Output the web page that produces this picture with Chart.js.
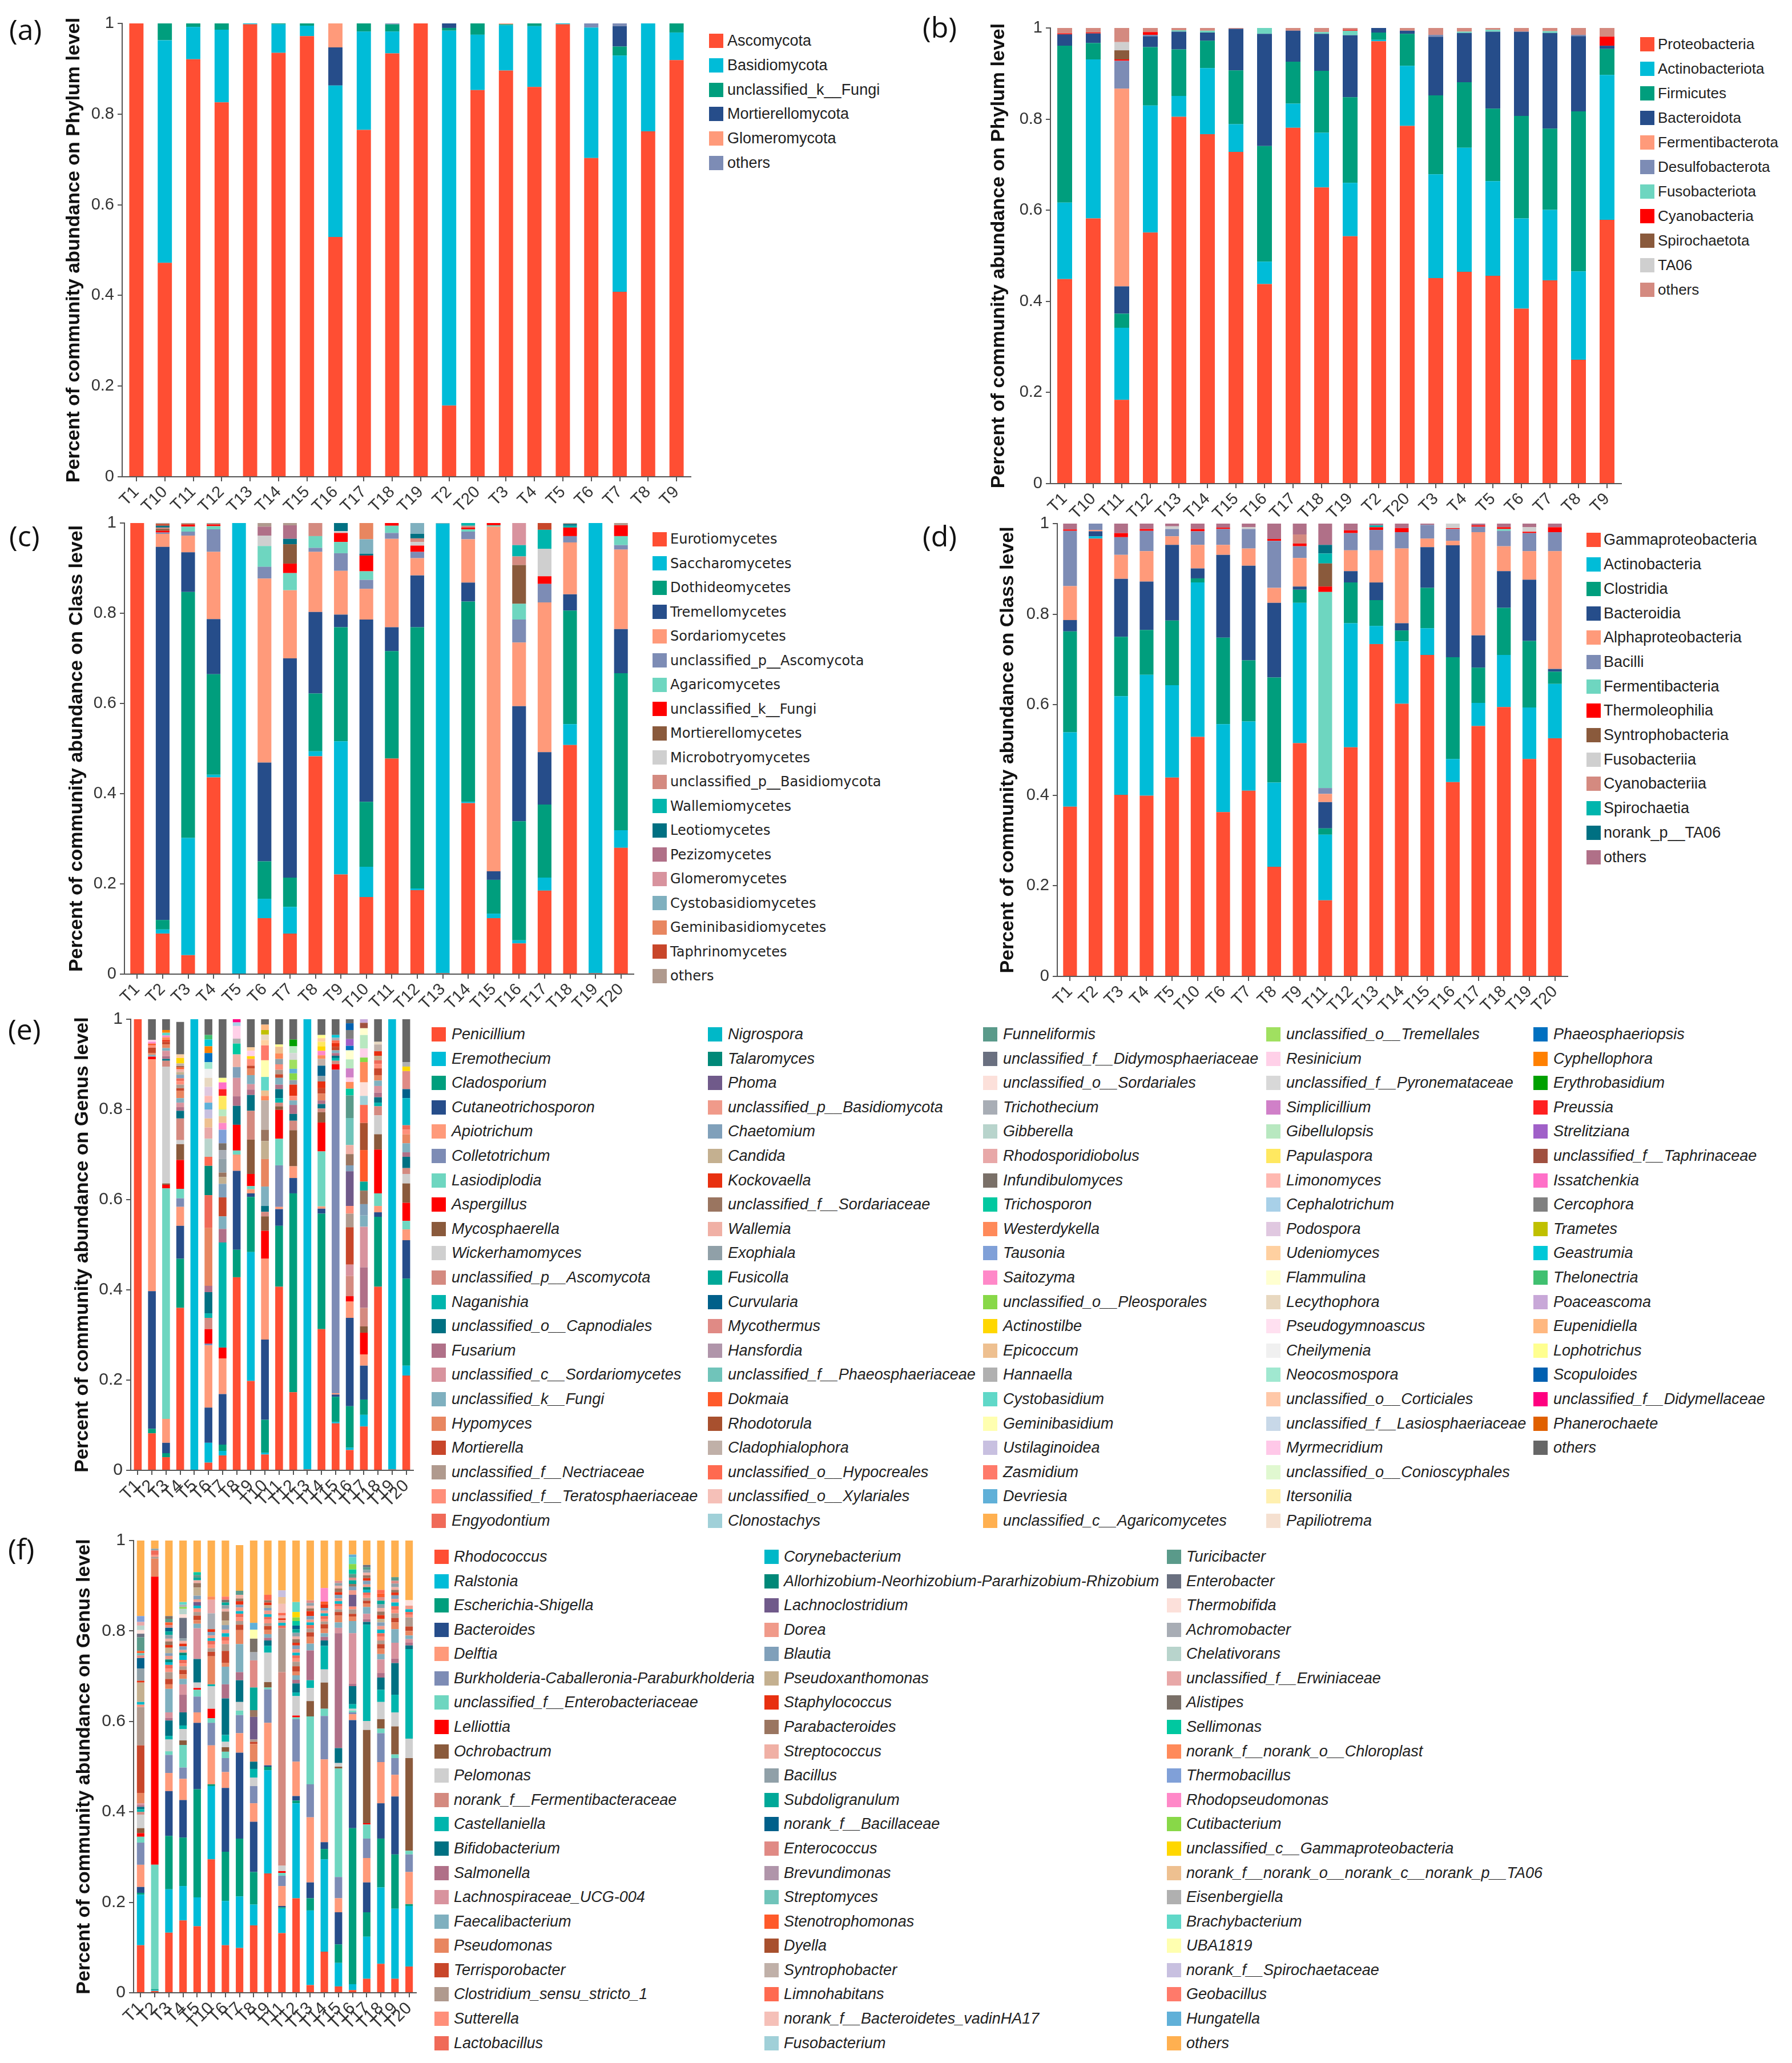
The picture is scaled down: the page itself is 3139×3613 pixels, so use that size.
<!DOCTYPE html>
<html>
<head>
<meta charset="utf-8">
<title>Community abundance barplots</title>
<script src="https://cdn.jsdelivr.net/npm/chart.js@4.4.1/dist/chart.umd.min.js"></script>
<style>
    html, body { margin: 0; padding: 0; background: #fff; }
    body { position: relative; width: 3139px; height: 3613px; overflow: hidden; }
    .tag { position: absolute; font-family: "Open Sans", "Noto Sans", sans-serif; font-size: 50px; line-height: 1; color: #111; }
    .item { position: absolute; display: flex; align-items: center; white-space: nowrap; color: #222; }
    .item .box { display: inline-block; flex: none; }
</style>
</head>
<body>
<div class="tag" style="left:16px;top:26px">(a)</div>
<div class="tag" style="left:1616px;top:22px">(b)</div>
<div class="tag" style="left:16px;top:913px">(c)</div>
<div class="tag" style="left:1616px;top:913px">(d)</div>
<div class="tag" style="left:14px;top:1777px">(e)</div>
<div class="tag" style="left:14px;top:2687px">(f)</div>

<script>
'use strict';

/* ---------- données ---------- */

// ordre des échantillons (a, b : tri alphabétique ; c, e : naturel ; d, f : T10 après T5)
const samplesAlpha = ['T1', 'T10', 'T11', 'T12', 'T13', 'T14', 'T15', 'T16', 'T17', 'T18', 'T19', 'T2', 'T20', 'T3', 'T4', 'T5', 'T6', 'T7', 'T8', 'T9'];
const samplesNatural = ['T1', 'T2', 'T3', 'T4', 'T5', 'T6', 'T7', 'T8', 'T9', 'T10', 'T11', 'T12', 'T13', 'T14', 'T15', 'T16', 'T17', 'T18', 'T19', 'T20'];
const samplesBact = ['T1', 'T2', 'T3', 'T4', 'T5', 'T10', 'T6', 'T7', 'T8', 'T9', 'T11', 'T12', 'T13', 'T14', 'T15', 'T16', 'T17', 'T18', 'T19', 'T20'];

// graduations de l'axe y
const yTicks = [0, 0.2, 0.4, 0.6, 0.8, 1];
const yTickLabels = ['0', '0.2', '0.4', '0.6', '0.8', '1'];

// (a) champignons, phylum
const phylumFungi = ['Ascomycota', 'Basidiomycota', 'unclassified_k__Fungi', 'Mortierellomycota', 'Glomeromycota', 'others'];
const phylumFungiValues = [
    [1.0, 0.472, 0.921, 0.826, 0.998, 0.935, 0.972, 0.529, 0.765, 0.934, 1.0, 0.157, 0.853, 0.896, 0.86, 0.998, 0.703, 0.408, 0.762, 0.919],
    [0, 0.491, 0.071, 0.16, 0.002, 0.063, 0.023, 0.334, 0.217, 0.048, 0, 0.827, 0.122, 0.1, 0.134, 0.002, 0.288, 0.521, 0.238, 0.061],
    [0, 0.037, 0.008, 0.014, 0, 0.002, 0.005, 0, 0.018, 0.016, 0, 0.006, 0.025, 0.002, 0.006, 0, 0, 0.02, 0, 0.02],
    [0, 0, 0, 0, 0, 0, 0, 0.084, 0, 0, 0, 0.01, 0, 0, 0, 0, 0, 0.045, 0, 0],
    [0, 0, 0, 0, 0, 0, 0, 0.053, 0, 0, 0, 0, 0, 0.002, 0, 0, 0, 0, 0, 0],
    [0, 0, 0, 0, 0, 0, 0, 0, 0, 0.002, 0, 0, 0, 0, 0, 0, 0.009, 0.006, 0, 0],
];

// (b) bactéries, phylum
const phylumBact = ['Proteobacteria', 'Actinobacteriota', 'Firmicutes', 'Bacteroidota', 'Fermentibacterota', 'Desulfobacterota',
    'Fusobacteriota', 'Cyanobacteria', 'Spirochaetota', 'TA06', 'others'];
const phylumBactValues = [
    [0.449, 0.582, 0.184, 0.551, 0.805, 0.767, 0.728, 0.438, 0.781, 0.65, 0.543, 0.971, 0.785, 0.451, 0.465, 0.456, 0.384, 0.446, 0.272, 0.579],
    [0.168, 0.349, 0.158, 0.279, 0.046, 0.145, 0.061, 0.049, 0.053, 0.12, 0.117, 0.003, 0.132, 0.228, 0.272, 0.208, 0.198, 0.155, 0.194, 0.318],
    [0.344, 0.036, 0.031, 0.128, 0.102, 0.06, 0.118, 0.254, 0.092, 0.136, 0.188, 0.016, 0.07, 0.173, 0.144, 0.159, 0.225, 0.178, 0.351, 0.057],
    [0.025, 0.021, 0.06, 0.024, 0.039, 0.018, 0.091, 0.246, 0.068, 0.081, 0.136, 0.01, 0.007, 0.129, 0.108, 0.169, 0.185, 0.21, 0.165, 0.007],
    [0, 0, 0.434, 0, 0, 0, 0, 0, 0, 0, 0, 0, 0, 0, 0, 0, 0, 0, 0, 0],
    [0, 0, 0.061, 0.003, 0, 0, 0, 0, 0, 0, 0, 0, 0, 0.004, 0, 0, 0, 0, 0.003, 0],
    [0, 0, 0, 0, 0.003, 0.004, 0, 0.013, 0, 0.004, 0.01, 0, 0, 0, 0.003, 0.004, 0, 0.004, 0, 0],
    [0.002, 0.002, 0.003, 0.006, 0, 0, 0, 0, 0, 0, 0.002, 0, 0, 0, 0, 0, 0, 0, 0, 0.02],
    [0, 0, 0.02, 0, 0, 0, 0, 0, 0, 0, 0, 0, 0, 0, 0, 0, 0, 0, 0, 0],
    [0, 0, 0.018, 0, 0, 0, 0, 0, 0, 0, 0, 0, 0, 0, 0, 0, 0, 0, 0, 0],
    [0.012, 0.01, 0.031, 0.01, 0.005, 0.006, 0.002, 0, 0.006, 0.009, 0.004, 0, 0.006, 0.015, 0.008, 0.004, 0.008, 0.007, 0.015, 0.019],
];

// (c) champignons, classe
const classFungi = ['Eurotiomycetes', 'Saccharomycetes', 'Dothideomycetes', 'Tremellomycetes', 'Sordariomycetes', 'unclassified_p__Ascomycota',
    'Agaricomycetes', 'unclassified_k__Fungi', 'Mortierellomycetes', 'Microbotryomycetes', 'unclassified_p__Basidiomycota', 'Wallemiomycetes',
    'Leotiomycetes', 'Pezizomycetes', 'Glomeromycetes', 'Cystobasidiomycetes', 'Geminibasidiomycetes', 'Taphrinomycetes', 'others'];
const classFungiValues = [
    [1.0, 0.09, 0.042, 0.436, 0, 0.124, 0.09, 0.483, 0.221, 0.171, 0.478, 0.186, 0.002, 0.379, 0.124, 0.068, 0.185, 0.508, 0.002, 0.28],
    [0, 0.009, 0.26, 0.006, 1.0, 0.043, 0.059, 0.011, 0.295, 0.067, 0, 0.004, 0.997, 0.003, 0.01, 0.007, 0.029, 0.046, 0.998, 0.039],
    [0, 0.021, 0.545, 0.223, 0, 0.083, 0.065, 0.128, 0.253, 0.144, 0.238, 0.579, 0, 0.444, 0.075, 0.264, 0.162, 0.252, 0, 0.348],
    [0, 0.827, 0.088, 0.122, 0, 0.219, 0.486, 0.181, 0.028, 0.404, 0.053, 0.115, 0, 0.042, 0.019, 0.255, 0.116, 0.036, 0, 0.098],
    [0, 0.029, 0.037, 0.149, 0, 0.408, 0.151, 0.133, 0.097, 0.068, 0.196, 0.038, 0, 0.096, 0.764, 0.141, 0.332, 0.115, 0, 0.176],
    [0, 0.003, 0.009, 0.05, 0, 0.026, 0, 0.009, 0.039, 0.02, 0.013, 0.014, 0, 0.017, 0, 0.051, 0.041, 0.014, 0, 0.01],
    [0, 0, 0.011, 0.007, 0, 0.046, 0.038, 0.026, 0.025, 0.019, 0.016, 0, 0, 0.005, 0.003, 0.035, 0, 0, 0, 0.02],
    [0, 0.004, 0.004, 0.004, 0, 0, 0.021, 0, 0.02, 0.035, 0.006, 0.014, 0, 0.004, 0.005, 0, 0.017, 0.019, 0, 0.024],
    [0, 0.004, 0, 0, 0, 0, 0.043, 0, 0, 0, 0, 0, 0, 0, 0, 0.086, 0, 0, 0, 0],
    [0, 0, 0, 0, 0, 0.023, 0, 0, 0.004, 0, 0, 0.008, 0, 0, 0, 0, 0.061, 0, 0, 0],
    [0, 0.003, 0, 0, 0, 0, 0, 0.029, 0, 0, 0, 0.008, 0, 0.004, 0, 0.019, 0, 0, 0, 0],
    [0, 0, 0, 0, 0, 0, 0, 0, 0, 0, 0, 0, 0, 0.006, 0, 0.025, 0.042, 0.004, 0, 0],
    [0, 0.004, 0, 0, 0, 0, 0.012, 0, 0.018, 0.004, 0, 0.01, 0, 0, 0, 0, 0, 0.004, 0, 0],
    [0, 0, 0, 0, 0, 0.02, 0.03, 0, 0, 0, 0, 0, 0, 0, 0, 0, 0, 0, 0, 0],
    [0, 0, 0, 0, 0, 0, 0, 0, 0, 0, 0, 0, 0, 0, 0, 0.049, 0, 0, 0, 0],
    [0, 0, 0, 0, 0, 0, 0, 0, 0, 0.032, 0, 0.024, 0, 0, 0, 0, 0, 0, 0, 0],
    [0, 0, 0, 0, 0, 0, 0, 0, 0, 0.036, 0, 0, 0, 0, 0, 0, 0, 0, 0, 0],
    [0, 0.004, 0.002, 0, 0, 0, 0, 0, 0, 0, 0, 0, 0, 0, 0, 0, 0.015, 0, 0, 0],
    [0, 0.002, 0.002, 0.003, 0, 0.008, 0.005, 0, 0, 0, 0, 0, 0.001, 0, 0, 0, 0, 0.002, 0, 0.005],
];

// (d) bactéries, classe
const classBact = ['Gammaproteobacteria', 'Actinobacteria', 'Clostridia', 'Bacteroidia', 'Alphaproteobacteria', 'Bacilli', 'Fermentibacteria',
    'Thermoleophilia', 'Syntrophobacteria', 'Fusobacteriia', 'Cyanobacteriia', 'Spirochaetia', 'norank_p__TA06', 'others'];
const classBactValues = [
    [0.375, 0.967, 0.401, 0.399, 0.439, 0.529, 0.363, 0.41, 0.242, 0.515, 0.168, 0.506, 0.734, 0.602, 0.71, 0.429, 0.553, 0.595, 0.48, 0.526],
    [0.164, 0.005, 0.218, 0.267, 0.204, 0.341, 0.194, 0.153, 0.186, 0.31, 0.145, 0.274, 0.04, 0.138, 0.059, 0.051, 0.051, 0.115, 0.114, 0.12],
    [0.223, 0, 0.131, 0.099, 0.143, 0.009, 0.191, 0.135, 0.232, 0.029, 0.014, 0.09, 0.057, 0.024, 0.089, 0.225, 0.078, 0.104, 0.147, 0.027],
    [0.025, 0.011, 0.128, 0.107, 0.167, 0.022, 0.183, 0.209, 0.165, 0.007, 0.058, 0.025, 0.039, 0.016, 0.09, 0.247, 0.071, 0.081, 0.135, 0.006],
    [0.075, 0.003, 0.053, 0.067, 0.019, 0.052, 0.022, 0.038, 0.033, 0.063, 0.018, 0.046, 0.071, 0.165, 0.019, 0.01, 0.228, 0.055, 0.063, 0.26],
    [0.122, 0.014, 0.039, 0.045, 0.016, 0.03, 0.035, 0.043, 0.104, 0.026, 0.013, 0.038, 0.045, 0.036, 0.03, 0.026, 0.012, 0.034, 0.04, 0.042],
    [0, 0, 0, 0, 0, 0, 0, 0, 0, 0, 0.433, 0, 0, 0, 0, 0, 0, 0.004, 0, 0],
    [0.003, 0, 0.009, 0.004, 0, 0.005, 0.003, 0, 0.004, 0.006, 0.012, 0.006, 0.006, 0.009, 0, 0.002, 0.003, 0.004, 0.003, 0.011],
    [0, 0, 0, 0, 0, 0, 0, 0, 0, 0, 0.051, 0, 0, 0, 0, 0, 0, 0, 0, 0],
    [0, 0, 0, 0, 0.006, 0, 0, 0.004, 0, 0, 0, 0, 0, 0, 0, 0.01, 0, 0, 0.01, 0],
    [0, 0, 0, 0, 0, 0, 0, 0, 0, 0.02, 0, 0, 0, 0, 0, 0, 0, 0, 0, 0],
    [0, 0, 0, 0, 0, 0, 0, 0, 0, 0, 0.022, 0, 0.004, 0, 0, 0, 0, 0, 0, 0],
    [0, 0, 0, 0, 0, 0, 0, 0, 0, 0, 0.019, 0, 0, 0, 0, 0, 0, 0, 0, 0],
    [0.013, 0, 0.021, 0.012, 0.006, 0.012, 0.009, 0.008, 0.034, 0.024, 0.047, 0.015, 0.004, 0.01, 0.003, 0, 0.004, 0.008, 0.008, 0.008],
];

// (e) champignons, genre : un objet par échantillon (genres absents = 0)
const genusFungi = ['Penicillium', 'Eremothecium', 'Cladosporium', 'Cutaneotrichosporon', 'Apiotrichum', 'Colletotrichum', 'Lasiodiplodia',
    'Aspergillus', 'Mycosphaerella', 'Wickerhamomyces', 'unclassified_p__Ascomycota', 'Naganishia', 'unclassified_o__Capnodiales', 'Fusarium',
    'unclassified_c__Sordariomycetes', 'unclassified_k__Fungi', 'Hypomyces', 'Mortierella', 'unclassified_f__Nectriaceae',
    'unclassified_f__Teratosphaeriaceae', 'Engyodontium',
    'Nigrospora', 'Talaromyces', 'Phoma', 'unclassified_p__Basidiomycota', 'Chaetomium', 'Candida', 'Kockovaella', 'unclassified_f__Sordariaceae',
    'Wallemia', 'Exophiala', 'Fusicolla', 'Curvularia', 'Mycothermus', 'Hansfordia', 'unclassified_f__Phaeosphaeriaceae', 'Dokmaia', 'Rhodotorula',
    'Cladophialophora', 'unclassified_o__Hypocreales', 'unclassified_o__Xylariales', 'Clonostachys',
    'Funneliformis', 'unclassified_f__Didymosphaeriaceae', 'unclassified_o__Sordariales', 'Trichothecium', 'Gibberella', 'Rhodosporidiobolus',
    'Infundibulomyces', 'Trichosporon', 'Westerdykella', 'Tausonia', 'Saitozyma', 'unclassified_o__Pleosporales', 'Actinostilbe', 'Epicoccum',
    'Hannaella', 'Cystobasidium', 'Geminibasidium', 'Ustilaginoidea', 'Zasmidium', 'Devriesia', 'unclassified_c__Agaricomycetes',
    'unclassified_o__Tremellales', 'Resinicium', 'unclassified_f__Pyronemataceae', 'Simplicillium', 'Gibellulopsis', 'Papulaspora', 'Limonomyces',
    'Cephalotrichum', 'Podospora', 'Udeniomyces', 'Flammulina', 'Lecythophora', 'Pseudogymnoascus', 'Cheilymenia', 'Neocosmospora',
    'unclassified_o__Corticiales', 'unclassified_f__Lasiosphaeriaceae', 'Myrmecridium', 'unclassified_o__Conioscyphales', 'Itersonilia', 'Papiliotrema',
    'Phaeosphaeriopsis', 'Cyphellophora', 'Erythrobasidium', 'Preussia', 'Strelitziana', 'unclassified_f__Taphrinaceae', 'Issatchenkia', 'Cercophora',
    'Trametes', 'Geastrumia', 'Thelonectria', 'Poaceascoma', 'Eupenidiella', 'Lophotrichus', 'Scopuloides', 'unclassified_f__Didymellaceae',
    'Phanerochaete', 'others'];

const eT1 = { Penicillium: 1.0 };
const eT2 = { Penicillium: 0.082, Cladosporium: 0.01, Cutaneotrichosporon: 0.305, Apiotrichum: 0.514, Aspergillus: 0.006, unclassified_k__Fungi: 0.004,
    Hypomyces: 0.004, Mortierella: 0.012, unclassified_f__Teratosphaeriaceae: 0.005, Dokmaia: 0.004, Saitozyma: 0.004, Resinicium: 0.004, others: 0.046 };
const eT3 = { Penicillium: 0.029, Cladosporium: 0.009, Cutaneotrichosporon: 0.023, Apiotrichum: 0.053, Lasiodiplodia: 0.511, Aspergillus: 0.008,
    Mycosphaerella: 0.003, Wickerhamomyces: 0.259, unclassified_p__Ascomycota: 0.013, unclassified_o__Capnodiales: 0.004, Fusarium: 0.006,
    unclassified_c__Sordariomycetes: 0.012, unclassified_k__Fungi: 0.006, Hypomyces: 0.008, Mortierella: 0.006, Kockovaella: 0.004,
    Westerdykella: 0.006, Saitozyma: 0.004, Cystobasidium: 0.006, Cyphellophora: 0.006, others: 0.024 };
const eT4 = { Penicillium: 0.36, Cladosporium: 0.109, Cutaneotrichosporon: 0.073, Apiotrichum: 0.042, Colletotrichum: 0.019, Lasiodiplodia: 0.021,
    Aspergillus: 0.064, Mycosphaerella: 0.035, Wickerhamomyces: 0.009, unclassified_p__Ascomycota: 0.048, unclassified_o__Capnodiales: 0.017,
    Fusarium: 0.008, unclassified_c__Sordariomycetes: 0.01, unclassified_k__Fungi: 0.01, Hypomyces: 0.016, Mortierella: 0.006,
    unclassified_f__Nectriaceae: 0.008, unclassified_f__Teratosphaeriaceae: 0.008, Engyodontium: 0.006, Chaetomium: 0.008, Candida: 0.006,
    Wallemia: 0.006, Dokmaia: 0.004, Rhodotorula: 0.003, Cladophialophora: 0.006, Actinostilbe: 0.012, Udeniomyces: 0.008, others: 0.072 };
const eT5 = { Eremothecium: 1.0 };
const eT6 = { Penicillium: 0.017, Eremothecium: 0.044, Cutaneotrichosporon: 0.078, Apiotrichum: 0.138, Colletotrichum: 0.004, Aspergillus: 0.032,
    unclassified_p__Ascomycota: 0.025, Naganishia: 0.01, unclassified_o__Capnodiales: 0.047, Fusarium: 0.014, Hypomyces: 0.128, Engyodontium: 0.073,
    Talaromyces: 0.065, unclassified_o__Hypocreales: 0.02, Gibberella: 0.04, Rhodosporidiobolus: 0.025, Epicoccum: 0.02, Ustilaginoidea: 0.02,
    Devriesia: 0.015, Limonomyces: 0.015, Podospora: 0.02, Lecythophora: 0.02, Cheilymenia: 0.02, Neocosmospora: 0.015, Phaeosphaeriopsis: 0.02,
    Cyphellophora: 0.015, Geastrumia: 0.015, Thelonectria: 0.01, others: 0.035 };
const eT7 = { Penicillium: 0.033, Eremothecium: 0.01, Cladosporium: 0.014, Cutaneotrichosporon: 0.112, Apiotrichum: 0.079, Aspergillus: 0.024,
    Naganishia: 0.233, Fusarium: 0.03, unclassified_k__Fungi: 0.028, Mortierella: 0.042, Chaetomium: 0.03, Candida: 0.015,
    unclassified_f__Sordariaceae: 0.01, Exophiala: 0.03, Trichothecium: 0.02, Infundibulomyces: 0.015, Tausonia: 0.03, Saitozyma: 0.015,
    Epicoccum: 0.015, Gibellulopsis: 0.015, Papulaspora: 0.03, Preussia: 0.015, Issatchenkia: 0.015, Lophotrichus: 0.01, others: 0.13 };
const eT8 = { Penicillium: 0.428, Cladosporium: 0.061, Cutaneotrichosporon: 0.175, Apiotrichum: 0.036, Lasiodiplodia: 0.009, Aspergillus: 0.057,
    unclassified_o__Capnodiales: 0.042, Fusarium: 0.021, unclassified_c__Sordariomycetes: 0.041, Chaetomium: 0.024, Wallemia: 0.028,
    Trichosporon: 0.024, Hannaella: 0.011, Resinicium: 0.028, Cephalotrichum: 0.008, unclassified_f__Didymellaceae: 0.007 };
const eT9 = { Penicillium: 0.198, Eremothecium: 0.286, Cladosporium: 0.122, Cutaneotrichosporon: 0.008, Apiotrichum: 0.009, Lasiodiplodia: 0.007,
    Aspergillus: 0.027, Mycosphaerella: 0.076, unclassified_p__Ascomycota: 0.064, unclassified_o__Capnodiales: 0.035, Fusarium: 0.012,
    unclassified_c__Sordariomycetes: 0.012, unclassified_k__Fungi: 0.02, Hypomyces: 0.015, Mortierella: 0.006,
    unclassified_f__Teratosphaeriaceae: 0.015, Actinostilbe: 0.006, Resinicium: 0.012, Udeniomyces: 0.008, others: 0.062 };
const eT10 = { Penicillium: 0.035, Eremothecium: 0.004, Cladosporium: 0.073, Cutaneotrichosporon: 0.178, Apiotrichum: 0.179, Aspergillus: 0.062,
    Mycosphaerella: 0.032, unclassified_p__Ascomycota: 0.01, unclassified_o__Capnodiales: 0.013, unclassified_k__Fungi: 0.043, Hypomyces: 0.061,
    Candida: 0.04, unclassified_f__Sordariaceae: 0.025, Cladophialophora: 0.065, Westerdykella: 0.01, Epicoccum: 0.012, Cystobasidium: 0.03,
    Geminibasidium: 0.037, Zasmidium: 0.033, Udeniomyces: 0.012, Lecythophora: 0.012, Trametes: 0.01, Eupenidiella: 0.012, others: 0.012 };
const eT11 = { Penicillium: 0.407, Cladosporium: 0.135, Cutaneotrichosporon: 0.037, Apiotrichum: 0.005, Colletotrichum: 0.092, Lasiodiplodia: 0.059,
    Aspergillus: 0.064, Mycosphaerella: 0.008, unclassified_p__Ascomycota: 0.008, Naganishia: 0.01, unclassified_o__Capnodiales: 0.02,
    Fusarium: 0.01, unclassified_k__Fungi: 0.015, Mortierella: 0.008, unclassified_f__Nectriaceae: 0.01, unclassified_f__Teratosphaeriaceae: 0.012,
    Exophiala: 0.012, Westerdykella: 0.012, Epicoccum: 0.015, Lophotrichus: 0.005, others: 0.056 };
const eT12 = { Penicillium: 0.173, Cladosporium: 0.441, Cutaneotrichosporon: 0.034, Apiotrichum: 0.026, Mycosphaerella: 0.08,
    unclassified_p__Ascomycota: 0.021, unclassified_o__Capnodiales: 0.015, Fusarium: 0.02, unclassified_k__Fungi: 0.01,
    unclassified_f__Teratosphaeriaceae: 0.01, Kockovaella: 0.025, Exophiala: 0.01, unclassified_o__Pleosporales: 0.015, Devriesia: 0.01,
    unclassified_o__Tremellales: 0.02, unclassified_f__Pyronemataceae: 0.015, Gibellulopsis: 0.015, Erythrobasidium: 0.015, others: 0.045 };
const eT13 = { Penicillium: 0.002, Eremothecium: 0.998 };
const eT14 = { Penicillium: 0.313, Cladosporium: 0.256, Cutaneotrichosporon: 0.011, Apiotrichum: 0.005, Lasiodiplodia: 0.122, Aspergillus: 0.064,
    Mycosphaerella: 0.023, unclassified_p__Ascomycota: 0.008, unclassified_o__Capnodiales: 0.01, Fusarium: 0.008, Hypomyces: 0.015,
    Mortierella: 0.012, Kockovaella: 0.015, Exophiala: 0.012, Curvularia: 0.023, Cladophialophora: 0.015, Westerdykella: 0.008, Saitozyma: 0.01,
    Actinostilbe: 0.01, Papulaspora: 0.01, Udeniomyces: 0.008, Lophotrichus: 0.007, others: 0.035 };
const eT15 = { Penicillium: 0.104, Eremothecium: 0.003, Cladosporium: 0.056, Cutaneotrichosporon: 0.005, Apiotrichum: 0.003, Colletotrichum: 0.717,
    Aspergillus: 0.012, unclassified_p__Ascomycota: 0.008, Naganishia: 0.006, unclassified_o__Capnodiales: 0.005, Fusarium: 0.006,
    unclassified_k__Fungi: 0.006, Mortierella: 0.008, Kockovaella: 0.008, unclassified_o__Hypocreales: 0.006, Trichothecium: 0.006,
    Geastrumia: 0.006, others: 0.035 };
const eT16 = { Penicillium: 0.045, Eremothecium: 0.005, Cladosporium: 0.092, Cutaneotrichosporon: 0.196, Apiotrichum: 0.036, Aspergillus: 0.012,
    unclassified_p__Ascomycota: 0.045, unclassified_c__Sordariomycetes: 0.025, Mortierella: 0.083, unclassified_f__Nectriaceae: 0.03,
    unclassified_f__Teratosphaeriaceae: 0.017, Phoma: 0.077, Chaetomium: 0.013, unclassified_f__Sordariaceae: 0.025, Wallemia: 0.02,
    unclassified_f__Phaeosphaeriaceae: 0.06, Funneliformis: 0.05, Trichosporon: 0.015, Westerdykella: 0.015, Resinicium: 0.01,
    Simplicillium: 0.02, Gibellulopsis: 0.02, Flammulina: 0.02, Phaeosphaeriopsis: 0.01, Strelitziana: 0.015, Cercophora: 0.02,
    Scopuloides: 0.015, others: 0.009 };
const eT17 = { Penicillium: 0.097, Eremothecium: 0.026, Cladosporium: 0.034, Cutaneotrichosporon: 0.075, Apiotrichum: 0.025, Aspergillus: 0.048,
    Mycosphaerella: 0.014, unclassified_p__Ascomycota: 0.041, Fusarium: 0.09, unclassified_c__Sordariomycetes: 0.09, unclassified_k__Fungi: 0.025,
    Chaetomium: 0.025, unclassified_f__Sordariaceae: 0.03, Fusicolla: 0.02, Dokmaia: 0.07, Rhodotorula: 0.06, unclassified_o__Hypocreales: 0.04,
    Clonostachys: 0.02, unclassified_o__Sordariales: 0.03, Westerdykella: 0.045, unclassified_o__Pleosporales: 0.01, Resinicium: 0.02,
    Gibellulopsis: 0.03, Flammulina: 0.015, unclassified_f__Taphrinaceae: 0.012, Poaceascoma: 0.008 };
const eT18 = { Penicillium: 0.407, Cladosporium: 0.155, Cutaneotrichosporon: 0.01, Apiotrichum: 0.014, Lasiodiplodia: 0.028, Aspergillus: 0.097,
    Mycosphaerella: 0.034, Wickerhamomyces: 0.042, unclassified_p__Ascomycota: 0.02, Naganishia: 0.008, unclassified_o__Capnodiales: 0.012,
    Fusarium: 0.01, unclassified_c__Sordariomycetes: 0.015, unclassified_k__Fungi: 0.012, Hypomyces: 0.012, Mortierella: 0.015,
    unclassified_f__Teratosphaeriaceae: 0.01, Engyodontium: 0.008, Candida: 0.01, Kockovaella: 0.01, Cladophialophora: 0.015,
    Lecythophora: 0.006, others: 0.05 };
const eT19 = { Penicillium: 0.002, Eremothecium: 0.998 };
const eT20 = { Penicillium: 0.21, Eremothecium: 0.022, Cladosporium: 0.193, Cutaneotrichosporon: 0.085, Apiotrichum: 0.024, Lasiodiplodia: 0.019,
    Aspergillus: 0.04, Mycosphaerella: 0.043, Wickerhamomyces: 0.021, unclassified_p__Ascomycota: 0.013, unclassified_o__Capnodiales: 0.025,
    Fusarium: 0.01, unclassified_k__Fungi: 0.02, Hypomyces: 0.02, unclassified_f__Teratosphaeriaceae: 0.01, Engyodontium: 0.01,
    Nigrospora: 0.06, Curvularia: 0.02, Mycothermus: 0.04, Actinostilbe: 0.01, Hannaella: 0.01, others: 0.095 };
const genusFungiBars = [eT1, eT2, eT3, eT4, eT5, eT6, eT7, eT8, eT9, eT10, eT11, eT12, eT13, eT14, eT15, eT16, eT17, eT18, eT19, eT20];

// (f) bactéries, genre : un objet par échantillon, dans l'ordre de samplesBact
const genusBact = ['Rhodococcus', 'Ralstonia', 'Escherichia-Shigella', 'Bacteroides', 'Delftia', 'Burkholderia-Caballeronia-Paraburkholderia',
    'unclassified_f__Enterobacteriaceae', 'Lelliottia', 'Ochrobactrum', 'Pelomonas', 'norank_f__Fermentibacteraceae', 'Castellaniella',
    'Bifidobacterium', 'Salmonella', 'Lachnospiraceae_UCG-004', 'Faecalibacterium', 'Pseudomonas', 'Terrisporobacter',
    'Clostridium_sensu_stricto_1', 'Sutterella', 'Lactobacillus',
    'Corynebacterium', 'Allorhizobium-Neorhizobium-Pararhizobium-Rhizobium', 'Lachnoclostridium', 'Dorea', 'Blautia', 'Pseudoxanthomonas',
    'Staphylococcus', 'Parabacteroides', 'Streptococcus', 'Bacillus', 'Subdoligranulum', 'norank_f__Bacillaceae', 'Enterococcus', 'Brevundimonas',
    'Streptomyces', 'Stenotrophomonas', 'Dyella', 'Syntrophobacter', 'Limnohabitans', 'norank_f__Bacteroidetes_vadinHA17', 'Fusobacterium',
    'Turicibacter', 'Enterobacter', 'Thermobifida', 'Achromobacter', 'Chelativorans', 'unclassified_f__Erwiniaceae', 'Alistipes', 'Sellimonas',
    'norank_f__norank_o__Chloroplast', 'Thermobacillus', 'Rhodopseudomonas', 'Cutibacterium', 'unclassified_c__Gammaproteobacteria',
    'norank_f__norank_o__norank_c__norank_p__TA06', 'Eisenbergiella', 'Brachybacterium', 'UBA1819', 'norank_f__Spirochaetaceae', 'Geobacillus',
    'Hungatella', 'others'];

const fT1 = { Rhodococcus: 0.105, Ralstonia: 0.112, 'Escherichia-Shigella': 0.004, Bacteroides: 0.013, Delftia: 0.049,
    'Burkholderia-Caballeronia-Paraburkholderia': 0.049, unclassified_f__Enterobacteriaceae: 0.013, Lelliottia: 0.008, Ochrobactrum: 0.011,
    Pelomonas: 0.03, norank_f__Fermentibacteraceae: 0.006, Castellaniella: 0.006, Bifidobacterium: 0.005, Salmonella: 0.004,
    'Lachnospiraceae_UCG-004': 0.004, Pseudomonas: 0.023, Terrisporobacter: 0.105, Clostridium_sensu_stricto_1: 0.085, Sutterella: 0.005,
    Corynebacterium: 0.006, Pseudoxanthomonas: 0.043, Staphylococcus: 0.004, Bacillus: 0.027, norank_f__Bacillaceae: 0.023, Enterococcus: 0.006,
    Streptomyces: 0.005, Stenotrophomonas: 0.005, Turicibacter: 0.03, Enterobacter: 0.008, Thermobifida: 0.008, Chelativorans: 0.01,
    unclassified_f__Erwiniaceae: 0.008, Thermobacillus: 0.013, others: 0.167 };
const fT2 = { Rhodococcus: 0.004, Ralstonia: 0.002, 'Escherichia-Shigella': 0.002, unclassified_f__Enterobacteriaceae: 0.275, Lelliottia: 0.637,
    Pseudomonas: 0.04, Clostridium_sensu_stricto_1: 0.004, Sutterella: 0.004, Lactobacillus: 0.01, Bacillus: 0.004, others: 0.018 };
const fT3 = { Rhodococcus: 0.133, Ralstonia: 0.096, 'Escherichia-Shigella': 0.118, Bacteroides: 0.099, Delftia: 0.04,
    'Burkholderia-Caballeronia-Paraburkholderia': 0.04, unclassified_f__Enterobacteriaceae: 0.008, Pelomonas: 0.026, Castellaniella: 0.008,
    Bifidobacterium: 0.034, Salmonella: 0.006, 'Lachnospiraceae_UCG-004': 0.012, Faecalibacterium: 0.052, Pseudomonas: 0.01,
    Terrisporobacter: 0.012, Clostridium_sensu_stricto_1: 0.015, Sutterella: 0.008, Lactobacillus: 0.008, Corynebacterium: 0.006,
    'Allorhizobium-Neorhizobium-Pararhizobium-Rhizobium': 0.006, Dorea: 0.008, Blautia: 0.006, Pseudoxanthomonas: 0.012, Staphylococcus: 0.006,
    Parabacteroides: 0.008, Streptococcus: 0.006, Bacillus: 0.008, Subdoligranulum: 0.008, norank_f__Bacillaceae: 0.008, Enterococcus: 0.006,
    Stenotrophomonas: 0.006, Turicibacter: 0.008, Alistipes: 0.006, others: 0.167 };
const fT4 = { Rhodococcus: 0.16, Ralstonia: 0.076, 'Escherichia-Shigella': 0.107, Bacteroides: 0.083, Delftia: 0.047,
    'Burkholderia-Caballeronia-Paraburkholderia': 0.025, unclassified_f__Enterobacteriaceae: 0.05, Ochrobactrum: 0.01, Pelomonas: 0.025,
    Castellaniella: 0.008, Bifidobacterium: 0.029, Salmonella: 0.039, 'Lachnospiraceae_UCG-004': 0.023, Faecalibacterium: 0.012,
    Pseudomonas: 0.01, Terrisporobacter: 0.01, Clostridium_sensu_stricto_1: 0.008, Sutterella: 0.006, Lactobacillus: 0.008,
    Corynebacterium: 0.01, 'Allorhizobium-Neorhizobium-Pararhizobium-Rhizobium': 0.006, Dorea: 0.006, Blautia: 0.008, Staphylococcus: 0.006,
    Streptococcus: 0.006, Bacillus: 0.006, Enterobacter: 0.045, Thermobifida: 0.008, Chelativorans: 0.012, Cutibacterium: 0.004,
    Eisenbergiella: 0.005, Brachybacterium: 0.006, others: 0.136 };
const fT5 = { Rhodococcus: 0.147, Ralstonia: 0.064, 'Escherichia-Shigella': 0.239, Bacteroides: 0.147, Delftia: 0.023,
    'Burkholderia-Caballeronia-Paraburkholderia': 0.035, unclassified_f__Enterobacteriaceae: 0.015, Lelliottia: 0.004, Pelomonas: 0.012,
    Bifidobacterium: 0.052, 'Lachnospiraceae_UCG-004': 0.068, Faecalibacterium: 0.01, Pseudomonas: 0.008, Terrisporobacter: 0.01,
    Clostridium_sensu_stricto_1: 0.008, Sutterella: 0.008, Corynebacterium: 0.006, Lachnoclostridium: 0.008, Dorea: 0.006, Blautia: 0.008,
    Pseudoxanthomonas: 0.018, Parabacteroides: 0.01, Streptococcus: 0.006, Subdoligranulum: 0.006, Turicibacter: 0.006, Sellimonas: 0.006,
    others: 0.07 };
const fT10 = { Rhodococcus: 0.295, Ralstonia: 0.162, 'Escherichia-Shigella': 0.004, Delftia: 0.086,
    'Burkholderia-Caballeronia-Paraburkholderia': 0.05, unclassified_f__Enterobacteriaceae: 0.01, Lelliottia: 0.021, Pelomonas: 0.05,
    Castellaniella: 0.004, Pseudomonas: 0.062, Terrisporobacter: 0.01, Clostridium_sensu_stricto_1: 0.008, Sutterella: 0.008,
    Lactobacillus: 0.008, Corynebacterium: 0.006, Dorea: 0.006, Blautia: 0.008, Staphylococcus: 0.006, Achromobacter: 0.035,
    unclassified_f__Erwiniaceae: 0.03, norank_f__norank_o__Chloroplast: 0.007, others: 0.124 };
const fT6 = { Rhodococcus: 0.105, Ralstonia: 0.098, 'Escherichia-Shigella': 0.109, Bacteroides: 0.141, Delftia: 0.035,
    'Burkholderia-Caballeronia-Paraburkholderia': 0.031, unclassified_f__Enterobacteriaceae: 0.014, Ochrobactrum: 0.01, Pelomonas: 0.012,
    Castellaniella: 0.015, Bifidobacterium: 0.081, Salmonella: 0.031, Faecalibacterium: 0.039, Pseudomonas: 0.008, Terrisporobacter: 0.027,
    Clostridium_sensu_stricto_1: 0.015, Sutterella: 0.008, Lactobacillus: 0.008, Corynebacterium: 0.008, Dorea: 0.008, Blautia: 0.01,
    Pseudoxanthomonas: 0.01, Parabacteroides: 0.02, Streptococcus: 0.006, Bacillus: 0.008, Subdoligranulum: 0.006, Alistipes: 0.006,
    Geobacillus: 0.007, others: 0.124 };
const fT7 = { Rhodococcus: 0.099, Ralstonia: 0.114, 'Escherichia-Shigella': 0.128, Bacteroides: 0.19, Delftia: 0.043,
    'Burkholderia-Caballeronia-Paraburkholderia': 0.04, unclassified_f__Enterobacteriaceae: 0.01, Pelomonas: 0.019, Bifidobacterium: 0.048,
    Salmonella: 0.018, Faecalibacterium: 0.062, Pseudomonas: 0.031, Terrisporobacter: 0.012, Clostridium_sensu_stricto_1: 0.008,
    Sutterella: 0.008, Lactobacillus: 0.008, Corynebacterium: 0.006, Dorea: 0.008, Blautia: 0.006, Staphylococcus: 0.008,
    Parabacteroides: 0.006, Streptococcus: 0.008, Turicibacter: 0.009, others: 0.101 };
const fT8 = { Rhodococcus: 0.149, Ralstonia: 0.046, 'Escherichia-Shigella': 0.072, Bacteroides: 0.111, Delftia: 0.041,
    'Burkholderia-Caballeronia-Paraburkholderia': 0.038, Pelomonas: 0.019, Castellaniella: 0.019, Bifidobacterium: 0.016, Pseudomonas: 0.039,
    Terrisporobacter: 0.005, Clostridium_sensu_stricto_1: 0.005, Lachnoclostridium: 0.05, Parabacteroides: 0.015, Subdoligranulum: 0.05,
    Enterococcus: 0.06, Achromobacter: 0.018, Alistipes: 0.03, UBA1819: 0.02, Hungatella: 0.015, others: 0.182 };
const fT9 = { Rhodococcus: 0.264, Ralstonia: 0.228, 'Escherichia-Shigella': 0.008, Bacteroides: 0.003, Delftia: 0.094,
    'Burkholderia-Caballeronia-Paraburkholderia': 0.074, unclassified_f__Enterobacteriaceae: 0.004, Ochrobactrum: 0.012, Pelomonas: 0.065,
    Castellaniella: 0.015, Bifidobacterium: 0.012, Salmonella: 0.006, Faecalibacterium: 0.008, Pseudomonas: 0.01, Terrisporobacter: 0.008,
    Clostridium_sensu_stricto_1: 0.006, Sutterella: 0.008, Lactobacillus: 0.006, Corynebacterium: 0.006, Dorea: 0.008, Blautia: 0.006,
    Pseudoxanthomonas: 0.006, Staphylococcus: 0.006, Parabacteroides: 0.005, Limnohabitans: 0.012, others: 0.12 };
const fT11 = { Rhodococcus: 0.132, Ralstonia: 0.054, 'Escherichia-Shigella': 0.003, Bacteroides: 0.003, Delftia: 0.044,
    'Burkholderia-Caballeronia-Paraburkholderia': 0.023, unclassified_f__Enterobacteriaceae: 0.006, Lelliottia: 0.004, Pelomonas: 0.012,
    norank_f__Fermentibacteraceae: 0.428, Clostridium_sensu_stricto_1: 0.097, Lactobacillus: 0.006, Corynebacterium: 0.006, Dorea: 0.006,
    Staphylococcus: 0.004, Streptococcus: 0.006, Limnohabitans: 0.006, norank_f__Bacteroidetes_vadinHA17: 0.02,
    norank_f__norank_o__norank_c__norank_p__TA06: 0.015, norank_f__Spirochaetaceae: 0.015, others: 0.11 };
const fT12 = { Rhodococcus: 0.209, Ralstonia: 0.21, 'Escherichia-Shigella': 0.006, Bacteroides: 0.01, Delftia: 0.076,
    'Burkholderia-Caballeronia-Paraburkholderia': 0.094, unclassified_f__Enterobacteriaceae: 0.004, Lelliottia: 0.004, Pelomonas: 0.043,
    Castellaniella: 0.008, Bifidobacterium: 0.02, Salmonella: 0.008, Faecalibacterium: 0.01, Pseudomonas: 0.008, Terrisporobacter: 0.012,
    Clostridium_sensu_stricto_1: 0.01, Sutterella: 0.008, Lactobacillus: 0.006, Corynebacterium: 0.006, Dorea: 0.008, Blautia: 0.008,
    Staphylococcus: 0.006, Parabacteroides: 0.008, Streptococcus: 0.006, Bacillus: 0.008, Subdoligranulum: 0.008, norank_f__Bacillaceae: 0.008,
    Sellimonas: 0.01, Cutibacterium: 0.008, unclassified_c__Gammaproteobacteria: 0.012, Brachybacterium: 0.022, others: 0.136 };
const fT13 = { Rhodococcus: 0.017, Ralstonia: 0.165, 'Escherichia-Shigella': 0.027, Bacteroides: 0.035, Delftia: 0.144,
    'Burkholderia-Caballeronia-Paraburkholderia': 0.073, unclassified_f__Enterobacteriaceae: 0.15, Ochrobactrum: 0.034, Pelomonas: 0.029,
    Castellaniella: 0.017, Salmonella: 0.066, Faecalibacterium: 0.015, Pseudomonas: 0.015, Terrisporobacter: 0.01,
    Clostridium_sensu_stricto_1: 0.008, Lactobacillus: 0.008, Corynebacterium: 0.006, Dorea: 0.006, Blautia: 0.008, Staphylococcus: 0.011,
    Parabacteroides: 0.006, Streptococcus: 0.006, Bacillus: 0.006, Enterococcus: 0.006, others: 0.132 };
const fT14 = { Rhodococcus: 0.091, Ralstonia: 0.204, 'Escherichia-Shigella': 0.023, Bacteroides: 0.015, Delftia: 0.183,
    'Burkholderia-Caballeronia-Paraburkholderia': 0.096, unclassified_f__Enterobacteriaceae: 0.016, Ochrobactrum: 0.058, Pelomonas: 0.029,
    Castellaniella: 0.052, Bifidobacterium: 0.012, Salmonella: 0.008, Faecalibacterium: 0.008, Pseudomonas: 0.01, Terrisporobacter: 0.01,
    Clostridium_sensu_stricto_1: 0.006, Sutterella: 0.006, Lactobacillus: 0.006, Corynebacterium: 0.006, Dorea: 0.006, Blautia: 0.006,
    Staphylococcus: 0.008, Stenotrophomonas: 0.006, Rhodopseudomonas: 0.03, others: 0.105 };
const fT15 = { Rhodococcus: 0.014, Ralstonia: 0.052, 'Escherichia-Shigella': 0.041, Bacteroides: 0.071, Delftia: 0.031,
    'Burkholderia-Caballeronia-Paraburkholderia': 0.047, unclassified_f__Enterobacteriaceae: 0.24, Ochrobactrum: 0.004, Pelomonas: 0.008,
    Bifidobacterium: 0.033, Salmonella: 0.254, 'Lachnospiraceae_UCG-004': 0.012, Faecalibacterium: 0.012, Pseudomonas: 0.015,
    Terrisporobacter: 0.008, Clostridium_sensu_stricto_1: 0.006, Sutterella: 0.006, Lactobacillus: 0.006, Corynebacterium: 0.006,
    Dorea: 0.006, Blautia: 0.008, Staphylococcus: 0.006, Parabacteroides: 0.008, Streptococcus: 0.006, Bacillus: 0.006, Enterococcus: 0.005,
    others: 0.089 };
const fT16 = { Rhodococcus: 0.006, Ralstonia: 0.013, 'Escherichia-Shigella': 0.345, Bacteroides: 0.239, Delftia: 0.013,
    'Burkholderia-Caballeronia-Paraburkholderia': 0.004, unclassified_f__Enterobacteriaceae: 0.004, Pelomonas: 0.004, Castellaniella: 0.01,
    Bifidobacterium: 0.04, Salmonella: 0.005, 'Lachnospiraceae_UCG-004': 0.112, Faecalibacterium: 0.027, Pseudomonas: 0.01,
    Terrisporobacter: 0.006, Clostridium_sensu_stricto_1: 0.01, Sutterella: 0.006, Lachnoclostridium: 0.026, Dorea: 0.01, Blautia: 0.008,
    Parabacteroides: 0.006, Subdoligranulum: 0.008, Enterococcus: 0.006, Turicibacter: 0.008, Sellimonas: 0.01, Cutibacterium: 0.012,
    Brachybacterium: 0.015, Hungatella: 0.006, others: 0.031 };
const fT17 = { Rhodococcus: 0.031, Ralstonia: 0.093, 'Escherichia-Shigella': 0.054, Bacteroides: 0.066, Delftia: 0.054,
    'Burkholderia-Caballeronia-Paraburkholderia': 0.043, unclassified_f__Enterobacteriaceae: 0.031, Lelliottia: 0.003, Ochrobactrum: 0.206,
    Pelomonas: 0.02, Castellaniella: 0.213, Bifidobacterium: 0.006, Salmonella: 0.006, 'Lachnospiraceae_UCG-004': 0.012,
    Faecalibacterium: 0.015, Pseudomonas: 0.008, Terrisporobacter: 0.006, Clostridium_sensu_stricto_1: 0.006, Sutterella: 0.006,
    Lactobacillus: 0.006, Corynebacterium: 0.006, 'Allorhizobium-Neorhizobium-Pararhizobium-Rhizobium': 0.006, Dorea: 0.006, Blautia: 0.008,
    Staphylococcus: 0.006, Parabacteroides: 0.006, Streptococcus: 0.006, Bacillus: 0.006, Turicibacter: 0.006, Enterobacter: 0.005,
    others: 0.054 };
const fT18 = { Rhodococcus: 0.064, Ralstonia: 0.169, 'Escherichia-Shigella': 0.108, Bacteroides: 0.078, Delftia: 0.091,
    'Burkholderia-Caballeronia-Paraburkholderia': 0.064, unclassified_f__Enterobacteriaceae: 0.01, Ochrobactrum: 0.021, Pelomonas: 0.038,
    Castellaniella: 0.027, Bifidobacterium: 0.027, Salmonella: 0.01, 'Lachnospiraceae_UCG-004': 0.03, Faecalibacterium: 0.012,
    Pseudomonas: 0.012, Terrisporobacter: 0.01, Clostridium_sensu_stricto_1: 0.008, Sutterella: 0.008, Lactobacillus: 0.008,
    Corynebacterium: 0.008, Dorea: 0.008, Blautia: 0.008, Pseudoxanthomonas: 0.008, Staphylococcus: 0.008, Parabacteroides: 0.008,
    Streptococcus: 0.008, Bacillus: 0.008, Subdoligranulum: 0.008, Enterococcus: 0.008, Stenotrophomonas: 0.008, Limnohabitans: 0.008,
    others: 0.109 };
const fT19 = { Rhodococcus: 0.031, Ralstonia: 0.155, 'Escherichia-Shigella': 0.12, Bacteroides: 0.128, Delftia: 0.048,
    'Burkholderia-Caballeronia-Paraburkholderia': 0.037, unclassified_f__Enterobacteriaceae: 0.008, Ochrobactrum: 0.062, Pelomonas: 0.031,
    Castellaniella: 0.039, Bifidobacterium: 0.07, Salmonella: 0.01, 'Lachnospiraceae_UCG-004': 0.035, Faecalibacterium: 0.03,
    Pseudomonas: 0.015, Terrisporobacter: 0.01, Clostridium_sensu_stricto_1: 0.01, Sutterella: 0.008, Lactobacillus: 0.008,
    Corynebacterium: 0.008, Dorea: 0.008, Blautia: 0.008, Staphylococcus: 0.006, Parabacteroides: 0.006, Streptococcus: 0.006,
    Bacillus: 0.008, Enterococcus: 0.006, Turicibacter: 0.008, others: 0.081 };
const fT20 = { Rhodococcus: 0.058, Ralstonia: 0.134, 'Escherichia-Shigella': 0.004, Delftia: 0.071,
    'Burkholderia-Caballeronia-Paraburkholderia': 0.039, unclassified_f__Enterobacteriaceae: 0.008, Ochrobactrum: 0.205, Pelomonas: 0.043,
    Castellaniella: 0.198, Bifidobacterium: 0.008, Salmonella: 0.006, 'Lachnospiraceae_UCG-004': 0.008, Faecalibacterium: 0.008,
    Pseudomonas: 0.01, Terrisporobacter: 0.01, Clostridium_sensu_stricto_1: 0.02, Sutterella: 0.006, Lactobacillus: 0.006,
    Corynebacterium: 0.006, Dorea: 0.008, Thermobifida: 0.012, others: 0.132 };
const genusBactBars = [fT1, fT2, fT3, fT4, fT5, fT10, fT6, fT7, fT8, fT9, fT11, fT12, fT13, fT14, fT15, fT16, fT17, fT18, fT19, fT20];

/* ---------- styles ---------- */

// couleurs dans l'ordre des séries (même palette pour tous les panneaux)
const palette = ['#FF4E33', '#00BCD8', '#009E7D', '#264D8A', '#FF9A7A', '#7D8CB5', '#6ED6C0', '#FF0000', '#8A5A3C', '#CFCFCF',
    '#D48A80', '#00B5AD', '#007082', '#B07088', '#D8939E', '#7FB0BF', '#E88660', '#C8462A', '#B09A8E', '#FF8F7A',
    '#F06A58', '#00B8C8', '#008878', '#705A8A', '#F09A8A', '#80A0BA', '#C4B090', '#E83010', '#9A7560', '#F0B0A5',
    '#90A0A8', '#00A898', '#00608A', '#E08A85', '#B095AA', '#70C4BA', '#FF5A2A', '#A8502E', '#C0B0A8', '#FF6A50',
    '#F5C0B8', '#A0D0D8', '#5A9A8A', '#6A7080', '#FCE0DA', '#A8ADB5', '#B8D4CC', '#E8A8A8', '#7A7068', '#00C8A0',
    '#FF8A5A', '#80A0D8', '#FF88C8', '#88D848', '#FFD700', '#EEC090', '#B0B0B0', '#60D8C8', '#FFFFB0', '#C8C0E0',
    '#FF7A6A', '#60B0D8', '#FFB050', '#A0E060', '#FFD0E8', '#D8D8D8', '#D080C8', '#B8E8C0', '#FFE860', '#FFB8B0',
    '#A8D0E8', '#E0C8E0', '#FFD0A0', '#FFFFD0', '#E8D8C0', '#FFE0F0', '#F0F0F0', '#A0E8D0', '#FFC8A8', '#C8D8E8',
    '#FFC8E8', '#E0F8D0', '#FFF0B0', '#F5E0D0', '#0070C0', '#FF8000', '#00A000', '#FF2020', '#A060C8', '#A05040',
    '#FF70C8', '#808080', '#C0C000', '#00C8D8', '#40C070', '#C8A8D8', '#FFB880', '#FFFF90', '#0060B0', '#FF0080',
    '#E06000', '#666666'];

const SANS = '"Liberation Sans", Arial, sans-serif';
const NARROW = '"Liberation Sans Narrow", "Liberation Sans", Arial, sans-serif';
const AXIS = '#555555';
const TITLE_SIZE = 34;

// échantillon -> lignes par taxon (0 quand le taxon est absent)
function rowsFromBars(names, bars) {
    return names.map((name) => bars.map((bar) => (bar[name] !== undefined ? bar[name] : 0)));
}

function yLabel(value) {
    const k = yTicks.findIndex((t) => Math.abs(t - value) < 1e-6);
    return k >= 0 ? yTickLabels[k] : '';
}

function buildPanel(p) {
    const cv = document.createElement('canvas');
    cv.width = p.box.w;
    cv.height = p.box.h;
    cv.style.cssText = 'position:absolute;left:' + p.box.left + 'px;top:' + p.box.top + 'px;width:' + p.box.w + 'px;height:' + p.box.h + 'px';
    document.body.appendChild(cv);

    const yWidth = p.plot.left - p.box.left;
    const xHeight = p.box.top + p.box.h - p.plot.bottom;
    const titlePad = p.titleX - p.box.left - (TITLE_SIZE * 1.2) / 2;

    const chart = new Chart(cv, {
        type: 'bar',
        data: {
            labels: p.samples,
            datasets: p.names.map((name, i) => ({
                label: name,
                data: p.rows[i],
                backgroundColor: palette[i],
                borderWidth: 0,
                categoryPercentage: 1,
                barPercentage: p.bar,
            })),
        },
        options: {
            responsive: false,
            animation: false,
            devicePixelRatio: 1,
            layout: {
                padding: { left: 0, top: p.plot.top - p.box.top, right: p.box.left + p.box.w - p.plot.right, bottom: 0 },
            },
            plugins: { legend: { display: false }, tooltip: { enabled: false } },
            scales: {
                x: {
                    stacked: true,
                    offset: true,
                    grid: { display: true, drawOnChartArea: false, drawTicks: true, tickLength: 8, color: AXIS, lineWidth: 2, offset: false },
                    border: { display: true, color: AXIS, width: 2 },
                    ticks: { autoSkip: false, minRotation: 45, maxRotation: 45, padding: 2, color: '#333', font: p.tickFont },
                    afterFit: (scale) => { scale.height = xHeight; },
                },
                y: {
                    stacked: true,
                    min: 0,
                    max: 1,
                    afterBuildTicks: (scale) => { scale.ticks = yTicks.map((v) => ({ value: v })); },
                    ticks: { padding: 6, color: '#333', font: p.tickFont, callback: (value) => yLabel(value) },
                    grid: { display: true, drawOnChartArea: false, drawTicks: true, tickLength: 8, color: AXIS, lineWidth: 2 },
                    border: { display: true, color: AXIS, width: 2 },
                    title: {
                        display: true,
                        text: p.title,
                        color: '#111',
                        font: { family: SANS, size: TITLE_SIZE, weight: 'bold' },
                        padding: { top: titlePad, bottom: 0 },
                    },
                    afterFit: (scale) => { scale.width = yWidth; },
                },
            },
        },
    });

    htmlLegend(chart, p.legend);
    return chart;
}

// légende HTML, construite à partir des éléments de légende de Chart.js
function htmlLegend(chart, lg) {
    let items;
    try {
        items = chart.options.plugins.legend.labels.generateLabels(chart);
    } catch (e) {
        items = chart.data.datasets.map((d) => ({ text: d.label, fillStyle: d.backgroundColor }));
    }
    items.forEach((it, k) => {
        const col = Math.floor(k / lg.perCol);
        const row = k % lg.perCol;
        const el = document.createElement('div');
        el.className = 'item';
        el.style.left = lg.cols[col] + 'px';
        el.style.top = (lg.y0 + row * lg.step - lg.step / 2) + 'px';
        el.style.height = lg.step + 'px';
        el.style.font = lg.font;
        const box = document.createElement('span');
        box.className = 'box';
        box.style.width = lg.box + 'px';
        box.style.height = lg.box + 'px';
        box.style.background = it.fillStyle;
        box.style.marginRight = lg.gap + 'px';
        const txt = document.createElement('span');
        txt.textContent = it.text;
        el.appendChild(box);
        el.appendChild(txt);
        document.body.appendChild(el);
    });
}

/* ---------- panneaux ---------- */

const smallTicks = { family: NARROW, size: 29 };
const bigTicks = { family: SANS, size: 30 };

buildPanel({
    samples: samplesAlpha, names: phylumFungi, rows: phylumFungiValues,
    box: { left: 0, top: 0, w: 1230, h: 900 }, plot: { left: 214, right: 1210, top: 41, bottom: 835 },
    title: 'Percent of community abundance on Phylum level', titleX: 130, tickFont: smallTicks, bar: 0.5,
    legend: { cols: [1242], y0: 71.7, step: 42.7, perCol: 6, box: 25, gap: 7, font: '27px ' + SANS },
});

buildPanel({
    samples: samplesAlpha, names: phylumBact, rows: phylumBactValues,
    box: { left: 1600, top: 0, w: 1260, h: 910 }, plot: { left: 1840, right: 2840, top: 49, bottom: 847 },
    title: 'Percent of community abundance on Phylum level', titleX: 1750, tickFont: smallTicks, bar: 0.52,
    legend: { cols: [2873], y0: 77, step: 43, perCol: 11, box: 25, gap: 6, font: '26px ' + SANS },
});

buildPanel({
    samples: samplesNatural, names: classFungi, rows: classFungiValues,
    box: { left: 0, top: 875, w: 1130, h: 890 }, plot: { left: 218, right: 1110, top: 916, bottom: 1706 },
    title: 'Percent of community abundance on Class level', titleX: 135, tickFont: smallTicks, bar: 0.54,
    legend: { cols: [1143], y0: 944, step: 42.5, perCol: 19, box: 25, gap: 6, font: '24px "DejaVu Sans", sans-serif' },
});

buildPanel({
    samples: samplesBact, names: classBact, rows: classBactValues,
    box: { left: 1600, top: 875, w: 1165, h: 895 }, plot: { left: 1852, right: 2746, top: 917, bottom: 1710 },
    title: 'Percent of community abundance on Class level', titleX: 1766, tickFont: smallTicks, bar: 0.54,
    legend: { cols: [2779], y0: 946, step: 42.7, perCol: 14, box: 25, gap: 5, font: '27px ' + SANS },
});

buildPanel({
    samples: samplesNatural, names: genusFungi, rows: rowsFromBars(genusFungi, genusFungiBars),
    box: { left: 0, top: 1745, w: 745, h: 895 }, plot: { left: 229, right: 724, top: 1785, bottom: 2575 },
    title: 'Percent of community abundance on Genus level', titleX: 145, tickFont: bigTicks, bar: 0.55,
    legend: { cols: [756, 1240, 1722, 2218, 2686], y0: 1811.6, step: 42.6, perCol: 21, box: 25, gap: 10, font: 'italic 27px ' + SANS },
});

buildPanel({
    samples: samplesBact, names: genusBact, rows: rowsFromBars(genusBact, genusBactBars),
    box: { left: 0, top: 2655, w: 750, h: 905 }, plot: { left: 234, right: 729, top: 2698, bottom: 3490 },
    title: 'Percent of community abundance on Genus level', titleX: 148, tickFont: bigTicks, bar: 0.53,
    legend: { cols: [761, 1339, 2044], y0: 2726.5, step: 42.58, perCol: 21, box: 25, gap: 9, font: 'italic 27px ' + SANS },
});
</script>
</body>
</html>
